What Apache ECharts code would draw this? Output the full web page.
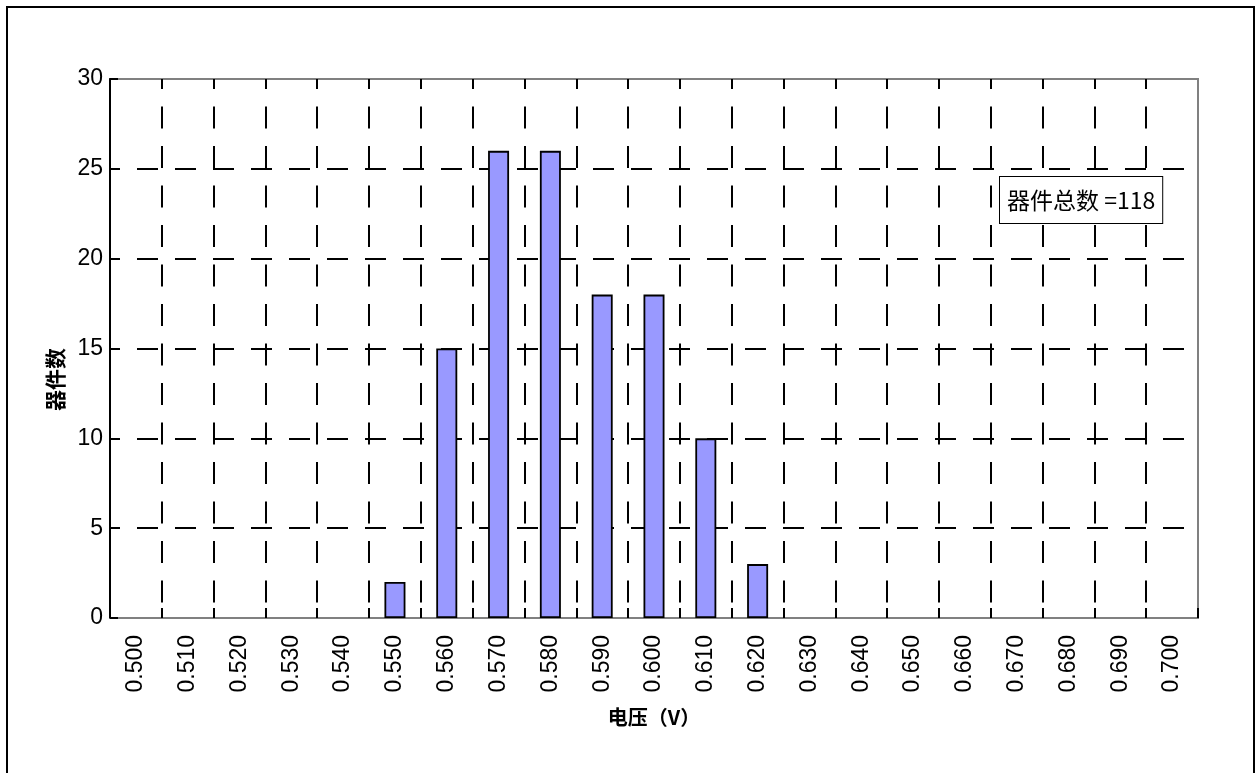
<!DOCTYPE html>
<html>
<head>
<meta charset="utf-8">
<script src="https://cdn.jsdelivr.net/npm/echarts@6/dist/echarts.min.js"></script>
<style>
html,body{margin:0;padding:0;background:#fff;}
#chart{width:1258px;height:773px;}
</style>
</head>
<body>
<div id="chart"></div>
<script>
var categories = ['0.500','0.510','0.520','0.530','0.540','0.550','0.560','0.570','0.580','0.590','0.600','0.610','0.620','0.630','0.640','0.650','0.660','0.670','0.680','0.690','0.700'];
var counts = [0,0,0,0,0,2,15,26,26,18,18,10,3,0,0,0,0,0,0,0,0];
var yTicks = [0,5,10,15,20,25,30];
var xName = '电压（V）';
var yName = '器件数';
var noteText = '器件总数 =118';

var chart = echarts.init(document.getElementById('chart'));
var font = '"Liberation Sans", Arial, "Noto Sans CJK SC", sans-serif';
chart.setOption({
  animation: false,
  backgroundColor: '#fff',
  grid: {
    left: 110, right: 60, top: 79, bottom: 155,
    show: true, borderColor: '#808080', borderWidth: 2, backgroundColor: 'transparent'
  },
  xAxis: {
    type: 'category',
    data: categories,
    boundaryGap: true,
    name: xName,
    nameLocation: 'middle',
    nameGap: 89,
    nameTextStyle: {fontFamily: '"Noto Sans CJK SC", sans-serif', fontSize: 20, fontWeight: 'bold', color: '#000'},
    axisLine: {show: true, lineStyle: {color: '#808080', width: 2}},
    axisTick: {show: true, inside: true, length: 10, lineStyle: {color: '#000', width: 2}},
    axisLabel: {rotate: 90, margin: 17, fontFamily: font, fontSize: 23, color: '#000', interval: 0},
    splitLine: {show: true, showMinLine: false, showMaxLine: false, lineStyle: {color: '#000', width: 2, type: [22, 17.5], dashOffset: 12}}
  },
  yAxis: {
    type: 'value',
    min: yTicks[0], max: yTicks[yTicks.length - 1], interval: 5,
    name: yName,
    nameLocation: 'middle',
    nameGap: 44,
    nameTextStyle: {fontFamily: '"Noto Sans CJK SC", sans-serif', fontSize: 21, fontWeight: 'bold', color: '#000', padding: [0, 62, 0, 0]},
    axisLine: {show: true, lineStyle: {color: '#000', width: 2}},
    axisTick: {show: true, inside: true, length: 8, lineStyle: {color: '#000', width: 2}},
    axisLabel: {margin: 7, fontFamily: font, fontSize: 23, color: '#000'},
    splitLine: {show: true, showMinLine: false, showMaxLine: false, lineStyle: {color: '#000', width: 2, type: [21, 17], dashOffset: 11}}
  },
  series: [{
    type: 'bar',
    data: counts.map(function (v) { return v === 0 ? '-' : v; }),
    barWidth: 21,
    itemStyle: {color: '#9999FF', borderColor: '#000', borderWidth: 1.8},
    z: 3
  }],
  graphic: [
    {type: 'rect', shape: {x: 7, y: 7, width: 1247, height: 800}, style: {fill: 'none', stroke: '#000', lineWidth: 2}, silent: true},
    {type: 'text', left: 999, top: 176, z: 10,
      style: {text: noteText, font: '23px "Noto Sans CJK SC", "Liberation Sans", sans-serif', fill: '#000',
        backgroundColor: '#fff', borderColor: '#000', borderWidth: 1, padding: [12, 7, 11, 7]}}
  ]
});
</script>
</body>
</html>
